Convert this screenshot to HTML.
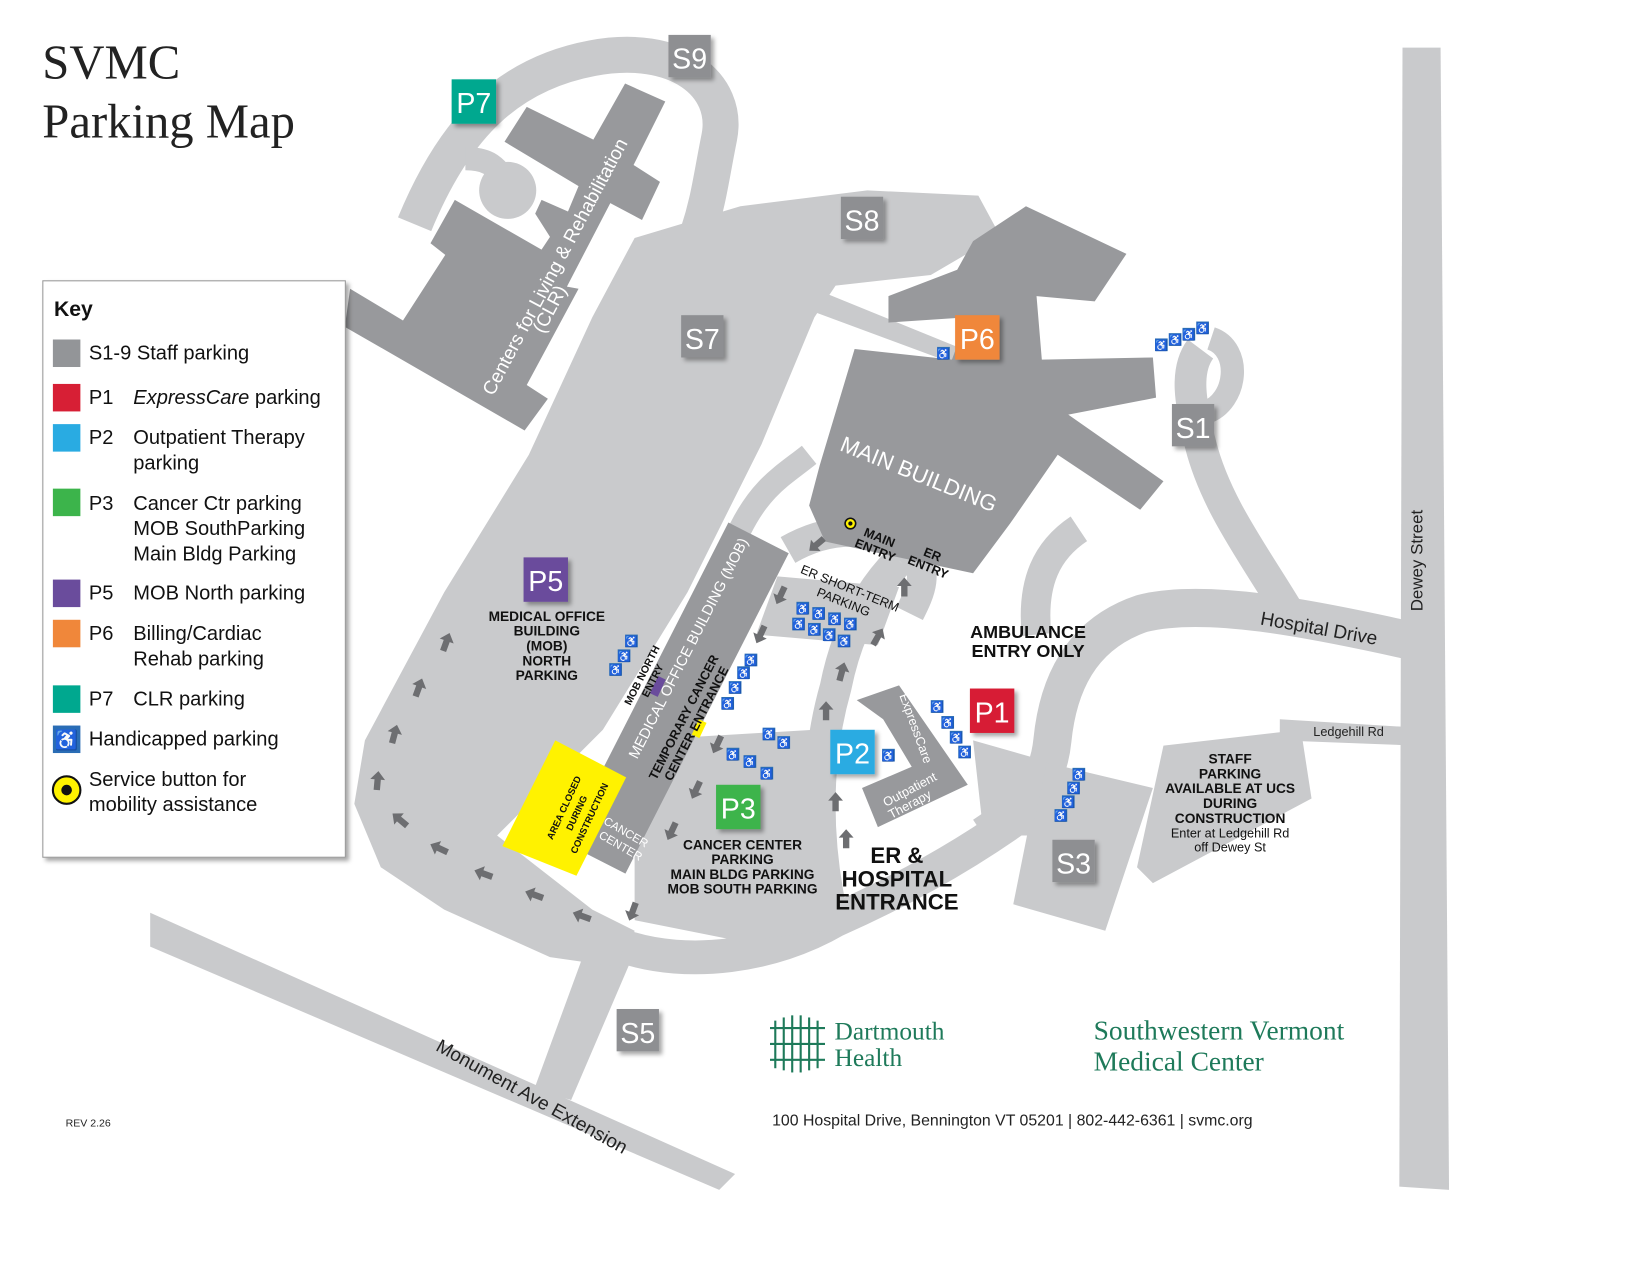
<!DOCTYPE html>
<html><head><meta charset="utf-8"><style>
html,body{margin:0;padding:0;background:#fff;}
svg{display:block;}
text{font-family:"Liberation Sans",sans-serif;}
.n{font-family:"Liberation Sans Narrow","Liberation Sans",sans-serif;}
.serif{font-family:"Liberation Serif",serif;}
.lbl{font-family:"Liberation Sans Narrow","Liberation Sans",sans-serif;font-weight:bold;fill:#111;text-anchor:middle;}
.road{fill:none;stroke:#c9cacc;stroke-linejoin:round;stroke-linecap:butt;}
.bld{fill:#98999c;}
.key{font-family:"Liberation Sans Narrow","Liberation Sans",sans-serif;font-size:19px;fill:#111;}
</style></head><body>
<svg width="1650" height="1275" viewBox="0 0 1560 1205.5" preserveAspectRatio="none" xmlns="http://www.w3.org/2000/svg">
<defs>
<filter id="sh" x="-30%" y="-30%" width="160%" height="160%"><feDropShadow dx="3" dy="3" stdDeviation="2" flood-color="#000" flood-opacity="0.35"/></filter>
<g id="ar"><path d="M0,-9 L7,-1 L3,-1 L3,9 L-3,9 L-3,-1 L-7,-1 Z" fill="#6d6e71"/></g>
<g id="hc"><rect x="-6" y="-6" width="12" height="12" fill="#2a6db5"/><text x="0" y="4" font-size="10" fill="#fff" text-anchor="middle">♿</text></g>
</defs>

<!-- title -->
<text x="40" y="74" class="serif" font-size="46" fill="#222">SVMC</text>
<text x="40" y="130" class="serif" font-size="46" fill="#222">Parking Map</text>

<!-- Roads -->
<polygon points="1326,45 1362,45 1370,1125 1323,1122" fill="#c9cacc"/>
<polygon points="142,863 695,1110 680,1125 142,895" fill="#c9cacc"/>
<polygon points="560,880 600,900 540,1040 505,1030" fill="#c9cacc"/>
<!-- S9 loop -->
<path class="road" stroke-width="34" d="M392,212 C430,120 480,70 560,55 C640,40 690,80 680,130 C672,170 670,190 660,220"/>
<circle cx="480" cy="180" r="27" fill="#c9cacc"/>
<path class="road" stroke-width="22" d="M440,150 C470,150 470,165 480,170"/>
<!-- big left lot -->
<polygon fill="#c9cacc" points="600,225 700,195 820,180 925,185 945,222 880,260 790,270 770,300 720,420 650,560 570,690 470,790 560,860 600,880 590,915 520,905 420,860 360,820 335,760 345,700 420,560 500,430 560,300"/>
<polygon fill="#c9cacc" points="775,275 910,330 905,345 770,295"/>
<!-- loop around P3 / ER -->
<path class="road" stroke-width="32" d="M590,895 C650,915 730,905 790,870 C880,830 940,790 980,760"/>
<path class="road" stroke-width="30" d="M790,880 C770,800 770,720 790,650 C800,600 820,560 850,530"/>
<path class="road" stroke-width="28" d="M745,520 C780,500 820,495 860,520 C880,540 870,560 860,580"/>
<polygon fill="#c9cacc" points="600,700 770,690 780,880 700,890 600,870"/>
<polygon fill="#c9cacc" points="735,545 850,555 830,610 715,600"/>
<path class="road" stroke-width="22" d="M700,500 C720,460 740,450 765,430"/>
<!-- Hospital Drive -->
<path class="road" stroke-width="36" d="M1330,605 C1240,585 1140,565 1080,580 C1020,600 1000,650 995,700 C990,750 960,770 930,790"/>
<path class="road" stroke-width="30" d="M1225,590 C1190,530 1150,480 1135,420 C1125,380 1120,350 1135,330"/>
<path class="road" stroke-width="22" d="M1145,320 C1175,330 1170,380 1140,390"/>
<path class="road" stroke-width="28" d="M1020,500 C990,520 975,550 980,600"/>
<polygon fill="#c9cacc" points="1210,680 1340,688 1340,705 1210,700"/>
<polygon fill="#c9cacc" points="1100,705 1230,690 1240,755 1090,835 1075,820"/>
<polygon fill="#c9cacc" points="985,720 1090,745 1045,880 958,855"/>
<polygon fill="#c9cacc" points="920,700 990,720 975,790 930,790"/>

<!-- Buildings -->
<polygon class="bld" points="591,79 629,96 599,156 624,172 607,208 577,192 536,271 547,273 498,364 518,377 496,407 326,309 331,273 381,303 421,241 407,230 430,189 512,236 520,224 506,202 512,189 537,200 547,176 477,134 498,101 561,132"/>
<polygon class="bld" points="840,280 905,255 920,228 970,195 1065,240 1035,285 980,280 985,340 1090,338 1093,376 1010,392 1100,455 1078,482 1000,430 955,495 920,542 780,512 765,478 775,440 808,330 900,340 915,300 840,305"/>
<g transform="translate(640,660) rotate(-63)"><rect x="-170" y="-32" width="340" height="64" class="bld"/></g>
<polygon class="bld" points="810,662 850,648 915,742 830,782 815,745 862,725 835,680"/>

<!-- yellow construction -->
<polygon fill="#fff200" points="475,800 525,700 592,735 545,828"/>
<text transform="translate(536,765) rotate(-65)" class="lbl" font-size="9">AREA CLOSED</text>
<text transform="translate(548,770) rotate(-65)" class="lbl" font-size="9">DURING</text>
<text transform="translate(560,775) rotate(-65)" class="lbl" font-size="9">CONSTRUCTION</text>
<rect x="657" y="681" width="8" height="16" fill="#fff200" transform="rotate(25 661 689)"/>
<rect x="618" y="640" width="8" height="18" fill="#6a4c9c" transform="rotate(25 622 649)"/>

<!-- building labels -->
<text transform="translate(530,255) rotate(-62)" font-size="18" fill="#fff" text-anchor="middle">Centers for Living &amp; Rehabilitation</text>
<text transform="translate(525,295) rotate(-62)" font-size="18" fill="#fff" text-anchor="middle">(CLR)</text>
<text transform="translate(866,455) rotate(22)" font-size="21" fill="#fff" text-anchor="middle">MAIN BUILDING</text>
<text transform="translate(655,615) rotate(-63)" font-size="14" fill="#fff" text-anchor="middle">MEDICAL OFFICE BUILDING (MOB)</text>
<text transform="translate(650,680) rotate(-63)" class="lbl" font-size="12">TEMPORARY CANCER</text>
<text transform="translate(662,686) rotate(-63)" class="lbl" font-size="12">CENTER ENTRANCE</text>
<text transform="translate(590,790) rotate(30)" font-size="11" fill="#fff" text-anchor="middle">CANCER</text>
<text transform="translate(585,803) rotate(30)" font-size="11" fill="#fff" text-anchor="middle">CENTER</text>
<text transform="translate(862,690) rotate(70)" font-size="12" fill="#fff" text-anchor="middle">ExpressCare</text>
<text transform="translate(862,750) rotate(-28)" font-size="12" fill="#fff" text-anchor="middle">Outpatient</text>
<text transform="translate(862,764) rotate(-28)" font-size="12" fill="#fff" text-anchor="middle">Therapy</text>
<text transform="translate(610,640) rotate(-63)" class="lbl" font-size="10">MOB NORTH</text>
<text transform="translate(620,645) rotate(-63)" class="lbl" font-size="10">ENTRY</text>

<!-- road labels -->
<text transform="translate(1345,530) rotate(-90)" font-size="16" fill="#222" text-anchor="middle">Dewey Street</text>
<text transform="translate(1246,600) rotate(10)" font-size="18" fill="#222" text-anchor="middle">Hospital Drive</text>
<text x="1275" y="696" font-size="12" fill="#222" text-anchor="middle" class="n">Ledgehill Rd</text>
<text transform="translate(500,1042) rotate(29)" font-size="18" fill="#222" text-anchor="middle">Monument Ave Extension</text>

<!-- text labels -->
<g class="lbl" font-size="13">
<text x="517" y="587">MEDICAL OFFICE</text><text x="517" y="601">BUILDING</text><text x="517" y="615">(MOB)</text><text x="517" y="629">NORTH</text><text x="517" y="643">PARKING</text>
<text x="702" y="803">CANCER CENTER</text><text x="702" y="817">PARKING</text><text x="702" y="831">MAIN BLDG PARKING</text><text x="702" y="845">MOB SOUTH PARKING</text>
<text x="1163" y="722">STAFF</text><text x="1163" y="736">PARKING</text><text x="1163" y="750">AVAILABLE AT UCS</text><text x="1163" y="764">DURING</text><text x="1163" y="778">CONSTRUCTION</text>
</g>
<g font-size="12" fill="#111" text-anchor="middle" class="n"><text x="1163" y="792">Enter at Ledgehill Rd</text><text x="1163" y="805">off Dewey St</text></g>
<g class="lbl" font-size="17"><text x="972" y="603">AMBULANCE</text><text x="972" y="621">ENTRY ONLY</text></g>
<g class="lbl" font-size="21"><text x="848" y="816">ER &amp;</text><text x="848" y="838">HOSPITAL</text><text x="848" y="860">ENTRANCE</text></g>
<g class="lbl" font-size="12">
<text transform="translate(830,512) rotate(22)">MAIN</text><text transform="translate(826,524) rotate(22)">ENTRY</text>
<text transform="translate(880,528) rotate(22)">ER</text><text transform="translate(876,540) rotate(22)">ENTRY</text>
</g>
<g font-size="12" fill="#111" text-anchor="middle" class="n">
<text transform="translate(802,560) rotate(22)">ER SHORT-TERM</text><text transform="translate(796,573) rotate(22)">PARKING</text>
</g>
<circle cx="804" cy="495" r="5" fill="#fff200" stroke="#111" stroke-width="1.5"/><circle cx="804" cy="495" r="2" fill="#111"/>

<!-- handicap icons -->
<g>
<use href="#hc" x="759" y="575"/><use href="#hc" x="774" y="580"/><use href="#hc" x="789" y="585"/><use href="#hc" x="804" y="590"/>
<use href="#hc" x="755" y="590"/><use href="#hc" x="770" y="595"/><use href="#hc" x="784" y="600"/><use href="#hc" x="798" y="606"/>
<use href="#hc" x="582" y="633"/><use href="#hc" x="597" y="606"/><use href="#hc" x="590" y="620"/>
<use href="#hc" x="688" y="665"/><use href="#hc" x="695" y="650"/><use href="#hc" x="703" y="636"/><use href="#hc" x="710" y="624"/>
<use href="#hc" x="727" y="694"/><use href="#hc" x="741" y="702"/>
<use href="#hc" x="693" y="713"/><use href="#hc" x="709" y="720"/><use href="#hc" x="725" y="731"/>
<use href="#hc" x="886" y="668"/><use href="#hc" x="896" y="683"/><use href="#hc" x="904" y="697"/><use href="#hc" x="912" y="711"/>
<use href="#hc" x="840" y="714"/><use href="#hc" x="892" y="334"/>
<use href="#hc" x="1098" y="326"/><use href="#hc" x="1111" y="321"/><use href="#hc" x="1124" y="316"/><use href="#hc" x="1137" y="310"/>
<use href="#hc" x="1020" y="732"/><use href="#hc" x="1015" y="745"/><use href="#hc" x="1010" y="758"/><use href="#hc" x="1003" y="771"/>
</g>

<!-- arrows -->
<g>
<use href="#ar" transform="translate(422,607) rotate(20)"/><use href="#ar" transform="translate(396,650) rotate(20)"/>
<use href="#ar" transform="translate(373,694) rotate(15)"/><use href="#ar" transform="translate(357,738) rotate(5)"/>
<use href="#ar" transform="translate(378,775) rotate(-50)"/><use href="#ar" transform="translate(415,802) rotate(-65)"/>
<use href="#ar" transform="translate(457,826) rotate(-70)"/><use href="#ar" transform="translate(505,846) rotate(-70)"/>
<use href="#ar" transform="translate(550,866) rotate(-70)"/><use href="#ar" transform="translate(598,862) rotate(-160)"/>
<use href="#ar" transform="translate(635,786) rotate(-155)"/><use href="#ar" transform="translate(658,747) rotate(-155)"/>
<use href="#ar" transform="translate(678,704) rotate(-155)"/><use href="#ar" transform="translate(719,600) rotate(-155)"/>
<use href="#ar" transform="translate(738,563) rotate(-155)"/><use href="#ar" transform="translate(772,515) rotate(-130)"/>
<use href="#ar" transform="translate(800,793) rotate(0)"/><use href="#ar" transform="translate(790,758) rotate(0)"/>
<use href="#ar" transform="translate(781,672) rotate(0)"/><use href="#ar" transform="translate(796,635) rotate(15)"/>
<use href="#ar" transform="translate(830,602) rotate(30)"/><use href="#ar" transform="translate(855,555) rotate(0)"/>
</g>

<!-- parking markers -->
<g filter="url(#sh)" font-size="27" text-anchor="middle">
<rect x="632" y="33" width="40" height="40" fill="#8e8f92"/><text x="652" y="65" fill="#fff">S9</text>
<rect x="795" y="186" width="40" height="40" fill="#8e8f92"/><text x="815" y="218" fill="#fff">S8</text>
<rect x="644" y="298" width="40" height="40" fill="#8e8f92"/><text x="664" y="330" fill="#fff">S7</text>
<rect x="1108" y="382" width="40" height="40" fill="#8e8f92"/><text x="1128" y="414" fill="#fff">S1</text>
<rect x="995" y="794" width="40" height="40" fill="#8e8f92"/><text x="1015" y="826" fill="#fff">S3</text>
<rect x="583" y="954" width="40" height="40" fill="#8e8f92"/><text x="603" y="986" fill="#fff">S5</text>
<rect x="427" y="75" width="42" height="42" fill="#00a88f"/><text x="448" y="107" fill="#fff">P7</text>
<rect x="903" y="298" width="42" height="42" fill="#f0873a"/><text x="924" y="330" fill="#fff">P6</text>
<rect x="495" y="527" width="42" height="42" fill="#6a4c9c"/><text x="516" y="559" fill="#fff">P5</text>
<rect x="917" y="651" width="42" height="42" fill="#d71f35"/><text x="938" y="683" fill="#fff">P1</text>
<rect x="785" y="690" width="42" height="42" fill="#29abe2"/><text x="806" y="722" fill="#fff">P2</text>
<rect x="677" y="742" width="42" height="42" fill="#3cb44b"/><text x="698" y="774" fill="#fff">P3</text>
</g>

<!-- key -->
<rect x="40.5" y="265.5" width="286" height="545" fill="#fff" stroke="#999" filter="url(#sh)"/>
<text x="51" y="299" font-size="20" font-weight="bold" fill="#111" class="n">Key</text>
<rect x="50" y="321" width="26" height="26" fill="#939598"/><text x="84" y="340" class="key">S1-9 Staff parking</text>
<rect x="50" y="363" width="26" height="26" fill="#d71f35"/><text x="84" y="382" class="key">P1</text><text x="126" y="382" class="key"><tspan font-style="italic">ExpressCare</tspan> parking</text>
<rect x="50" y="401" width="26" height="26" fill="#29abe2"/><text x="84" y="420" class="key">P2</text><text x="126" y="420" class="key">Outpatient Therapy</text><text x="126" y="444" class="key">parking</text>
<rect x="50" y="462" width="26" height="26" fill="#3cb44b"/><text x="84" y="482" class="key">P3</text><text x="126" y="482" class="key">Cancer Ctr parking</text><text x="126" y="506" class="key">MOB SouthParking</text><text x="126" y="530" class="key">Main Bldg Parking</text>
<rect x="50" y="548" width="26" height="26" fill="#6a4c9c"/><text x="84" y="567" class="key">P5</text><text x="126" y="567" class="key">MOB North parking</text>
<rect x="50" y="586" width="26" height="26" fill="#f0873a"/><text x="84" y="605" class="key">P6</text><text x="126" y="605" class="key">Billing/Cardiac</text><text x="126" y="629" class="key">Rehab parking</text>
<rect x="50" y="648" width="26" height="26" fill="#00a88f"/><text x="84" y="667" class="key">P7</text><text x="126" y="667" class="key">CLR parking</text>
<rect x="50" y="686" width="26" height="26" fill="#2a6db5"/><text x="63" y="706" font-size="18" fill="#fff" text-anchor="middle">♿</text><text x="84" y="705" class="key">Handicapped parking</text>
<circle cx="63" cy="747" r="13" fill="#fff200" stroke="#111" stroke-width="2"/><circle cx="63" cy="747" r="5" fill="#111"/>
<text x="84" y="743" class="key">Service button for</text><text x="84" y="767" class="key">mobility assistance</text>

<!-- footer -->
<text x="62" y="1065" font-size="10" fill="#222" class="n">REV 2.26</text>
<g stroke="#1e7a5a" stroke-width="2" fill="none">
<line x1="733" y1="965" x2="733" y2="1010"/><line x1="741" y1="962" x2="741" y2="1012"/><line x1="749" y1="960" x2="749" y2="1014"/><line x1="757" y1="960" x2="757" y2="1014"/><line x1="765" y1="962" x2="765" y2="1012"/><line x1="773" y1="965" x2="773" y2="1010"/>
<line x1="728" y1="972" x2="780" y2="972"/><line x1="728" y1="987" x2="780" y2="987"/><line x1="728" y1="1002" x2="780" y2="1002"/>
</g>
<text x="789" y="983" font-size="24" fill="#1e7a5a" class="serif">Dartmouth</text>
<text x="789" y="1008" font-size="24" fill="#1e7a5a" class="serif">Health</text>
<text x="1034" y="983" font-size="26" fill="#1e7a5a" class="serif">Southwestern Vermont</text>
<text x="1034" y="1012" font-size="26" fill="#1e7a5a" class="serif">Medical Center</text>
<text x="730" y="1064" font-size="15" fill="#222" class="n">100 Hospital Drive, Bennington VT 05201 | 802-442-6361 | svmc.org</text>
</svg>
</body></html>
